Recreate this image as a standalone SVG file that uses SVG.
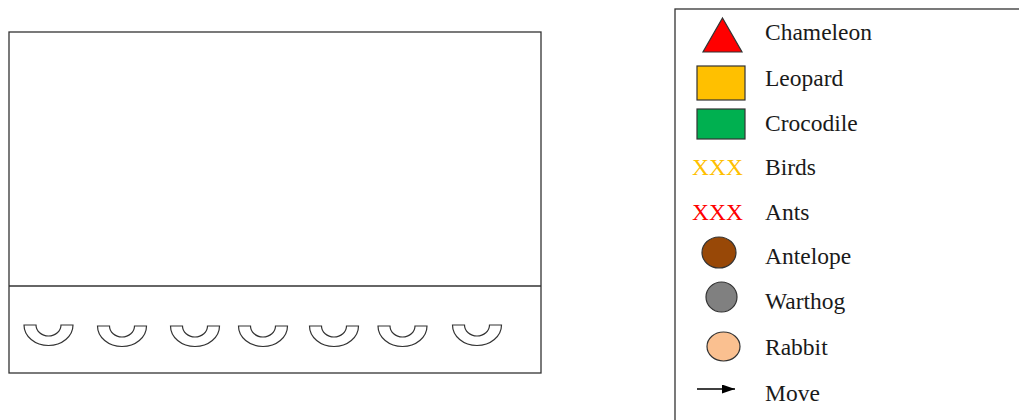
<svg xmlns="http://www.w3.org/2000/svg" xmlns:xlink="http://www.w3.org/1999/xlink" width="1019" height="420" viewBox="0 0 1019 420">
<style>
.frame{fill:#fff;stroke:#333;stroke-width:1.3}
.ring{fill:#fff;stroke:#333;stroke-width:1.2}
.lbl{font-family:"Liberation Serif","Times New Roman",serif;font-size:23.5px;fill:#1a1a1a}
.sym{stroke:#333;stroke-width:1.2}
</style>
<defs>
<path id="halfring" d="M -24.5 0 A 24.5 20.5 0 0 0 24.5 0 L 12.5 0 A 12.5 11 0 0 1 -12.5 0 Z"/>
<marker id="ah" markerWidth="13" markerHeight="9" refX="13" refY="4.5" orient="auto" markerUnits="userSpaceOnUse">
<path d="M0,0 L13,4.5 L0,9 Z" fill="#000"/>
</marker>
</defs>
<rect width="1019" height="420" fill="#fff"/>
<g id="field">
<rect class="frame" x="9" y="32" width="532" height="341"/>
<line x1="9" y1="286" x2="541" y2="286" stroke="#333" stroke-width="1.3"/>
<g id="rings">
<use xlink:href="#halfring" class="ring" x="48.5" y="325"/>
<use xlink:href="#halfring" class="ring" x="122" y="326"/>
<use xlink:href="#halfring" class="ring" x="195" y="326"/>
<use xlink:href="#halfring" class="ring" x="263" y="326"/>
<use xlink:href="#halfring" class="ring" x="334" y="326"/>
<use xlink:href="#halfring" class="ring" x="402.5" y="326"/>
<use xlink:href="#halfring" class="ring" x="477" y="325"/>
</g>
</g>
<g id="legend">
<rect class="frame" x="675" y="9" width="360" height="430"/>
<g id="chameleon"><polygon class="sym" points="722.5,18 742,52 703,52" fill="#FF0000"/><text class="lbl" x="765" y="40">Chameleon</text></g>
<g id="leopard"><rect class="sym" x="697" y="66" width="48" height="34" fill="#FFC000"/><text class="lbl" x="765" y="86">Leopard</text></g>
<g id="crocodile"><rect class="sym" x="697" y="109" width="48" height="30" fill="#00B050"/><text class="lbl" x="765" y="131">Crocodile</text></g>
<g id="birds"><text class="lbl" x="692" y="175" style="fill:#FFC000">XXX</text><text class="lbl" x="765" y="175">Birds</text></g>
<g id="ants"><text class="lbl" x="692" y="220" style="fill:#FF0000">XXX</text><text class="lbl" x="765" y="220">Ants</text></g>
<g id="antelope"><ellipse class="sym" cx="719" cy="252.5" rx="17" ry="15.5" fill="#984807"/><text class="lbl" x="765" y="264">Antelope</text></g>
<g id="warthog"><ellipse class="sym" cx="721.5" cy="297" rx="15.5" ry="15" fill="#808080"/><text class="lbl" x="765" y="309">Warthog</text></g>
<g id="rabbit"><ellipse class="sym" cx="723.5" cy="346.5" rx="16.5" ry="14.5" fill="#FAC090"/><text class="lbl" x="765" y="355">Rabbit</text></g>
<g id="move"><line x1="697" y1="389" x2="735" y2="389" stroke="#000" stroke-width="1.3" marker-end="url(#ah)"/><text class="lbl" x="765" y="401">Move</text></g>
</g>
</svg>
